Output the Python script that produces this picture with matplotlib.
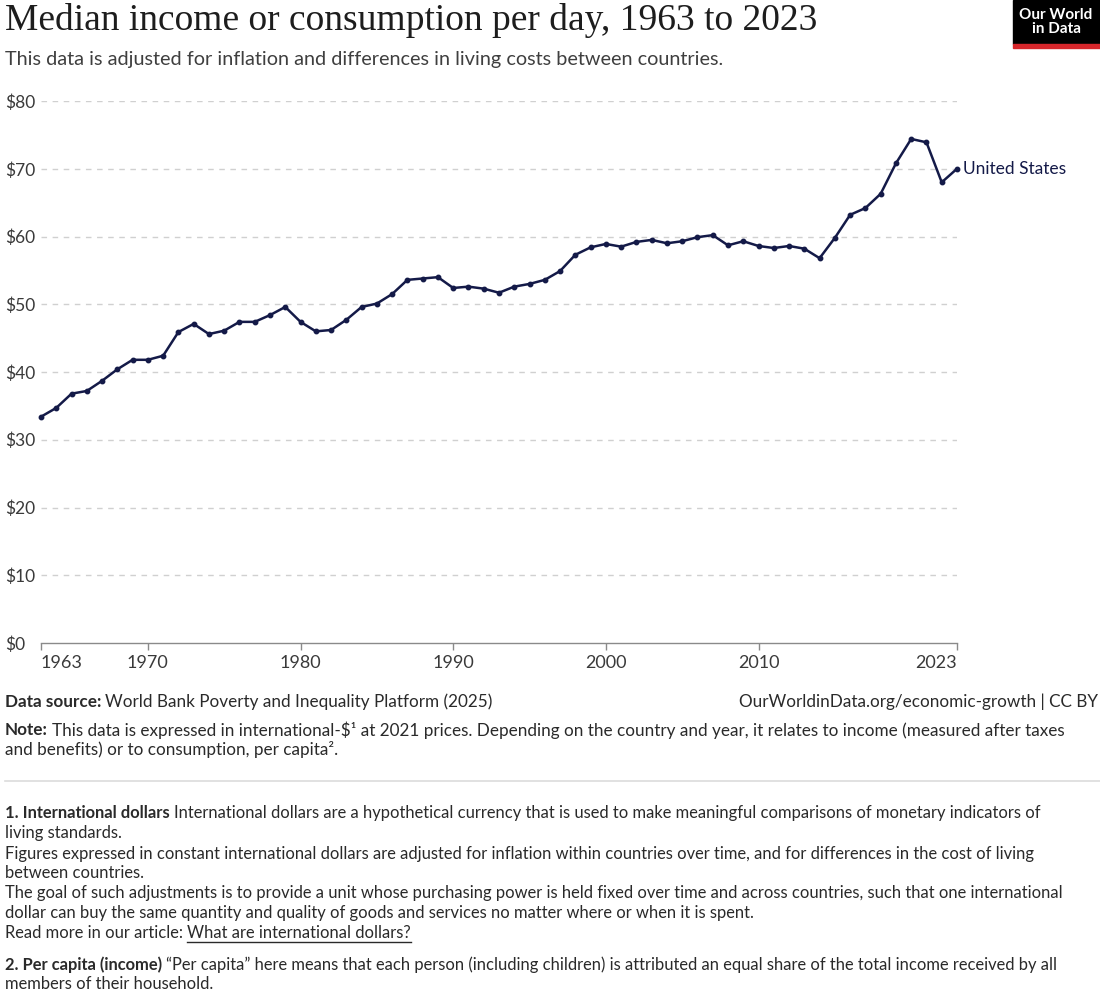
import matplotlib.pyplot as plt
from matplotlib.patches import Rectangle

# data
years = list(range(1963, 2024))
income_us = [
    33.4, 34.7, 36.8, 37.2, 38.7, 40.4, 41.8, 41.8, 42.4, 45.9,
    47.1, 45.6, 46.1, 47.4, 47.4, 48.4, 49.6, 47.4, 46.0, 46.2,
    47.7, 49.6, 50.1, 51.5, 53.6, 53.8, 54.0, 52.4, 52.6, 52.3,
    51.7, 52.6, 53.0, 53.6, 54.9, 57.3, 58.4, 58.9, 58.5, 59.2,
    59.5, 59.0, 59.3, 59.9, 60.2, 58.7, 59.3, 58.6, 58.3, 58.6,
    58.2, 56.8, 59.8, 63.2, 64.2, 66.3, 70.8, 74.4, 73.9, 68.0,
    70.0,
]
y_ticks = [0, 10, 20, 30, 40, 50, 60, 70, 80]
y_labels = ["$0", "$10", "$20", "$30", "$40", "$50", "$60", "$70", "$80"]
x_ticks = [1963, 1970, 1980, 1990, 2000, 2010, 2023]
series_name = "United States"

W, H = 1100, 992
LINE_COLOR = "#141a48"
TICK_GREY = "#3a3a3a"
DARK = "#2a2a2a"

plt.rcParams["font.family"] = ["Lato", "DejaVu Sans"]

fig = plt.figure(figsize=(W / 100, H / 100), dpi=100)


def fx(px):
    return px / W


def fy(py):
    return 1 - py / H


ax = fig.add_axes([fx(41), fy(643), fx(957 - 41), (643 - 101) / H])
ax.plot(years, income_us, color=LINE_COLOR, lw=1.8, marker="o", ms=3.2,
        clip_on=False, zorder=3)
ax.set_xlim(1963, 2023)
ax.set_ylim(0, 80)

ax.set_yticks(y_ticks)
ax.set_yticklabels(y_labels)
ax.set_xticks(x_ticks)
ax.set_xticklabels([str(x) for x in x_ticks])

for side in ["top", "right", "left"]:
    ax.spines[side].set_visible(False)
ax.spines["bottom"].set_color("#8a8a8a")
ax.spines["bottom"].set_linewidth(1)

ax.tick_params(axis="y", length=0, pad=26, labelsize=12.5, labelcolor=TICK_GREY)
for lbl in ax.get_yticklabels():
    lbl.set_horizontalalignment("left")
ax.tick_params(axis="x", length=5, width=1, color="#8a8a8a", pad=4,
               labelsize=13, labelcolor=TICK_GREY)
xlbls = ax.get_xticklabels()
xlbls[0].set_horizontalalignment("left")
xlbls[-1].set_horizontalalignment("right")

ax.grid(axis="y", color="#d0d0d0", linestyle=(0, (4, 4)), lw=1)
ax.set_axisbelow(True)
ax.yaxis.get_gridlines()[0].set_visible(False)

ax.annotate(series_name, xy=(years[-1], income_us[-1]), xytext=(4, 0),
            textcoords="offset points", va="center", ha="left",
            fontsize=12.5, color=LINE_COLOR)

# header
fig.text(fx(5), fy(20), "Median income or consumption per day, 1963 to 2023",
         family=["Liberation Serif", "DejaVu Serif"], fontsize=27,
         color="#1d1d1d", va="center", ha="left")
fig.text(fx(5), fy(60),
         "This data is adjusted for inflation and differences in living costs between countries.",
         fontsize=14.3, color="#3f3f3f", va="center", ha="left")

# logo
fig.patches.append(Rectangle((fx(1013), fy(44)), fx(87), 44 / H,
                             transform=fig.transFigure, color="black"))
fig.patches.append(Rectangle((fx(1013), fy(48)), fx(87), 4 / H,
                             transform=fig.transFigure, color="#d7262b"))
fig.text(fx(1056), fy(22), "Our World\nin Data", color="white", fontsize=11,
         fontweight="bold", ha="center", va="center", linespacing=1.0)


def bold_lead(px_y, lead, rest, fs):
    t = fig.text(fx(5), fy(px_y), lead, fontsize=fs, color=DARK,
                 va="center", ha="left", fontweight="bold")
    fig.canvas.draw()
    bb = t.get_window_extent()
    fig.text(fx(bb.x1 + 4), fy(px_y), rest, fontsize=fs, color=DARK,
             va="center", ha="left")


# footer
FS_NOTE = 12.3
bold_lead(702, "Data source:", "World Bank Poverty and Inequality Platform (2025)", FS_NOTE)
fig.text(fx(1098), fy(702), "OurWorldinData.org/economic-growth | CC BY",
         fontsize=FS_NOTE, color=DARK, va="center", ha="right")
bold_lead(730, "Note:",
          "This data is expressed in international-$\u00b9 at 2021 prices. Depending on the "
          "country and year, it relates to income (measured after taxes", FS_NOTE)
fig.text(fx(5), fy(750), "and benefits) or to consumption, per capita\u00b2.",
         fontsize=FS_NOTE, color=DARK, va="center", ha="left")

fig.add_artist(plt.Line2D([fx(5), fx(1100)], [fy(781), fy(781)],
                          color="#dcdcdc", lw=1.2))

FS = 11.9
bold_lead(813, "1. International dollars",
          "International dollars are a hypothetical currency that is used to make "
          "meaningful comparisons of monetary indicators of", FS)
plain_lines = [
    (833, "living standards."),
    (854, "Figures expressed in constant international dollars are adjusted for inflation "
          "within countries over time, and for differences in the cost of living"),
    (873, "between countries."),
    (893, "The goal of such adjustments is to provide a unit whose purchasing power is held "
          "fixed over time and across countries, such that one international"),
    (913, "dollar can buy the same quantity and quality of goods and services no matter "
          "where or when it is spent."),
]
for py, s in plain_lines:
    fig.text(fx(5), fy(py), s, fontsize=FS, color=DARK, va="center", ha="left")

t = fig.text(fx(5), fy(933), "Read more in our article:", fontsize=FS, color=DARK,
             va="center", ha="left")
fig.canvas.draw()
bb = t.get_window_extent()
link = fig.text(fx(bb.x1 + 4), fy(933), "What are international dollars?",
                fontsize=FS, color=DARK, va="center", ha="left")
fig.canvas.draw()
lb = link.get_window_extent()
fig.add_artist(plt.Line2D([lb.x0 / W, lb.x1 / W], [fy(942), fy(942)],
                          color=DARK, lw=1))

bold_lead(965, "2. Per capita (income)",
          "\u201cPer capita\u201d here means that each person (including children) is "
          "attributed an equal share of the total income received by all", FS)
fig.text(fx(5), fy(984), "members of their household.", fontsize=FS, color=DARK,
         va="center", ha="left")

fig.savefig("out.png", dpi=100)
